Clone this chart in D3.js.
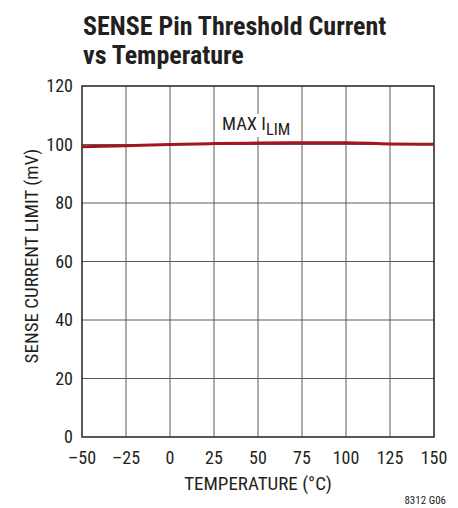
<!DOCTYPE html>
<html><head><meta charset="utf-8">
<script src="https://cdn.jsdelivr.net/npm/d3@7"></script>
<style>body{margin:0;background:#fff}svg{display:block}text{font-family:"Liberation Sans Narrow","Roboto Condensed","Liberation Sans",sans-serif;fill:#231f20}</style>
</head><body><svg id="c" width="458" height="508"></svg>
<script>
const temps = [-50, -25, 0, 25, 50, 75, 100, 125, 150];
const maxIlim = [99.2, 99.6, 100.0, 100.3, 100.5, 100.6, 100.6, 100.2, 100.1];
const xTicks = [-50, -25, 0, 25, 50, 75, 100, 125, 150];
const yTicks = [0, 20, 40, 60, 80, 100, 120];

const svg = d3.select("#c");
const L = 82, R = 434, T = 86, B = 437;
const x = d3.scaleLinear().domain([-50, 150]).range([L, R]);
const y = d3.scaleLinear().domain([0, 120]).range([B, T]);

svg.append("text").attr("x", 83).attr("y", 35).attr("font-size", 26).attr("font-weight", "bold").text("SENSE Pin Threshold Current");
svg.append("text").attr("x", 83).attr("y", 64).attr("font-size", 26).attr("font-weight", "bold").text("vs Temperature");

const g = svg.append("g");
g.selectAll("line.vx").data(xTicks.slice(1, -1)).join("line")
  .attr("x1", d => x(d)).attr("x2", d => x(d)).attr("y1", T).attr("y2", B)
  .attr("stroke", "#5a5a5a").attr("stroke-width", 1);
g.selectAll("line.hy").data(yTicks.slice(1, -1)).join("line")
  .attr("y1", d => y(d)).attr("y2", d => y(d)).attr("x1", L).attr("x2", R)
  .attr("stroke", "#5a5a5a").attr("stroke-width", 1);

// label with white background
const lab = svg.append("text").attr("x", 222).attr("y", 130).attr("font-size", 18.5);
lab.append("tspan").text("MAX I");
lab.append("tspan").attr("font-size", 16.5).attr("dy", 5).text("LIM");
const bb = lab.node().getBBox();
svg.insert("rect", "text:last-of-type").attr("x", bb.x - 2).attr("y", bb.y + 1).attr("width", bb.width + 4).attr("height", bb.height - 3).attr("fill", "#fff");
lab.raise();

svg.append("rect").attr("x", L).attr("y", T).attr("width", R - L).attr("height", B - T)
  .attr("fill", "none").attr("stroke", "#231f20").attr("stroke-width", 1.5);

svg.append("path").datum(temps.map((t, i) => [t, maxIlim[i]]))
  .attr("d", d3.line().x(d => x(d[0])).y(d => y(d[1])).curve(d3.curveMonotoneX))
  .attr("fill", "none").attr("stroke", "#a3161f").attr("stroke-width", 3);

svg.selectAll("text.xt").data(xTicks).join("text").attr("class", "xt")
  .attr("x", d => x(d)).attr("y", B + 27).attr("text-anchor", "middle").attr("font-size", 18)
  .text(d => d < 0 ? "\u2013" + Math.abs(d) : d);
svg.selectAll("text.yt").data(yTicks).join("text").attr("class", "yt")
  .attr("x", L - 9).attr("y", d => y(d) + 6).attr("text-anchor", "end").attr("font-size", 18)
  .text(d => d);

svg.append("text").attr("x", 258).attr("y", 490).attr("text-anchor", "middle").attr("font-size", 19).text("TEMPERATURE (\u00B0C)");
svg.append("text").attr("transform", `translate(38,256) rotate(-90)`).attr("text-anchor", "middle").attr("font-size", 19).text("SENSE CURRENT LIMIT (mV)");
svg.append("text").attr("x", 446).attr("y", 504).attr("text-anchor", "end").attr("font-size", 11).text("8312 G06");
</script></body></html>
